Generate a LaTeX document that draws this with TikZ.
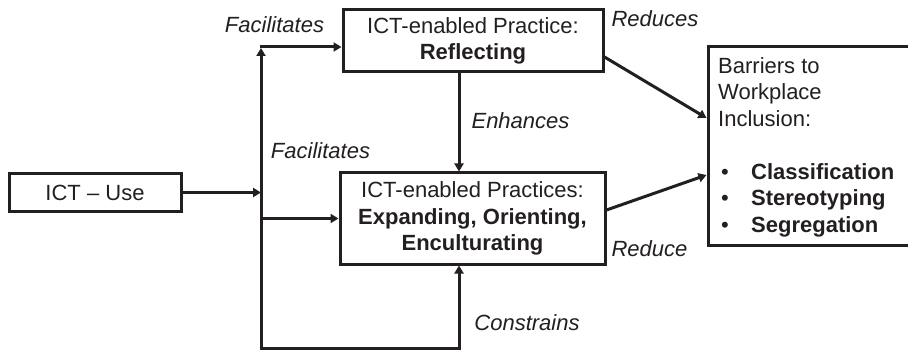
\documentclass[tikz,border=0pt]{standalone}
\usepackage{fontspec}
\setmainfont{Liberation Sans}
\usetikzlibrary{arrows.meta}
\definecolor{ink}{HTML}{231F20}
\newcommand{\bigfont}{\fontsize{22}{26.5}\selectfont}
\tikzset{
  box/.style={draw=ink, line width=3pt, inner sep=0pt, align=center, text=ink},
  arr/.style={draw=ink, line width=3pt, -{Triangle[length=8pt,width=9pt]}},
  lbl/.style={font=\bigfont\itshape, text=ink, inner sep=0pt},
}
\begin{document}
\begin{tikzpicture}[x=1pt,y=-1pt,font=\bigfont]
\useasboundingbox (0,0) rectangle (908,350);
\fill[white] (0,0) rectangle (908,350);
% nodes
\node[box, minimum width=172pt, minimum height=37pt] (use) at (95,192.5) {ICT -- Use};
\node[box, minimum width=260pt, minimum height=62pt] (refl) at (473,41) {ICT-enabled Practice:\\\textbf{Reflecting}};
\node[box, minimum width=265pt, minimum height=91pt] (exp) at (472.5,218.5) {ICT-enabled Practices:\\\textbf{Expanding, Orienting,}\\\textbf{Enculturating}};
\node[box, minimum width=220pt, minimum height=198pt] (bar) at (818,146) {};
\node[anchor=north west, inner sep=0pt, align=left, text=ink] (bartext) at (718,57)
  {Barriers to\\Workplace\\Inclusion:\\[26.5pt]
   \makebox[33pt][l]{\kern3pt\textbullet}\textbf{Classification}\\
   \makebox[33pt][l]{\kern3pt\textbullet}\textbf{Stereotyping}\\
   \makebox[33pt][l]{\kern3pt\textbullet}\textbf{Segregation}};
% spine coordinates
\coordinate (top) at (261,47);
\coordinate (bot) at (261,348);
\coordinate (enh) at ([xshift=-14pt]refl.south);
% connectors
\draw[arr] (use.east) -- (use.east -| top);
\draw[arr] (bot) -- ([yshift=-1pt]top);
\draw[arr] ([xshift=-1.5pt]top) -- (top -| refl.west);
\draw[arr] (exp.west -| top) -- (exp.west);
\draw[arr] ([xshift=-1.5pt]bot) -| (enh |- exp.south);
\draw[arr] (enh) -- (enh |- exp.north);
\draw[arr] ([yshift=-16pt]refl.east) -- ([yshift=28pt]bar.west);
\draw[arr] ([yshift=8.5pt]exp.east) -- ([yshift=-29pt]bar.west);
% labels
\node[lbl] (l1) at (274.5,25) {Facilitates};
\node[lbl] (l2) at (320.5,151) {Facilitates};
\node[lbl] (l3) at (655,19) {Reduces};
\node[lbl] (l4) at (520.5,121) {Enhances};
\node[lbl] (l5) at (649.5,249) {Reduce};
\node[lbl] (l6) at (527,323) {Constrains};
\end{tikzpicture}
\end{document}
